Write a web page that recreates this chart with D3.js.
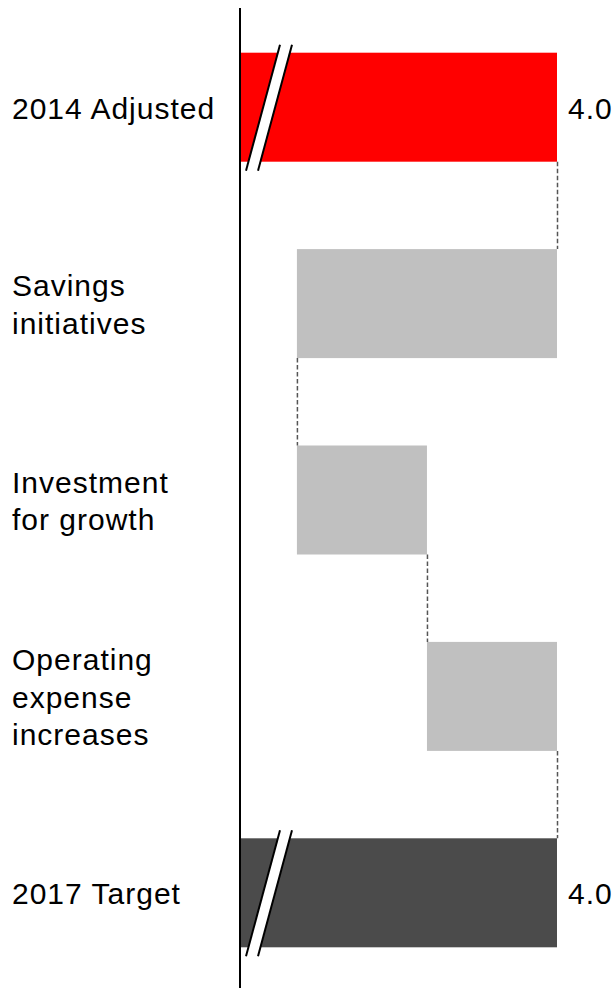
<!DOCTYPE html>
<html>
<head>
<meta charset="utf-8">
<script src="https://cdn.jsdelivr.net/npm/d3@7"></script>
<style>
  html, body { margin: 0; padding: 0; background: #ffffff; }
  svg { display: block; }
  text { font-family: "Liberation Sans", Arial, Helvetica, sans-serif; fill: #000; letter-spacing: 1px; }
</style>
</head>
<body>
<svg id="chart" width="615" height="988"></svg>
<script>
// Operating expense bridge, 2014 adjusted to 2017 target
const categories = ["2014 Adjusted", "Savings initiatives", "Investment for growth", "Operating expense increases", "2017 Target"];
const labelLines = [["2014 Adjusted"], ["Savings", "initiatives"], ["Investment", "for growth"], ["Operating", "expense", "increases"], ["2017 Target"]];
const values = [4.0, -0.2, 0.1, 0.1, 4.0];
const kinds = ["total", "delta", "delta", "delta", "total"];
const axisStart = 3.757;   // value axis is broken; bars start here

const barColors = ["#ff0000", "#c0c0c0", "#c0c0c0", "#c0c0c0", "#4b4b4b"];

const width = 615, height = 988;
const svg = d3.select("#chart");

const x = d3.scaleLinear().domain([axisStart, 4.0]).range([241, 557]);
const y = d3.scaleBand().domain(categories).range([9, 991])
  .paddingInner(0.445).paddingOuter(0.2225);

// running totals for the waterfall
let running = 0;
const bars = categories.map((c, i) => {
  let start, end;
  if (kinds[i] === "total") { start = axisStart; end = values[i]; }
  else { start = running; end = running + values[i]; }
  running = end;
  return { cat: c, i, start, end, kind: kinds[i], value: values[i], lines: labelLines[i] };
});

// bars
svg.append("g").selectAll("rect").data(bars).join("rect")
  .attr("x", d => x(Math.min(d.start, d.end)))
  .attr("y", d => y(d.cat))
  .attr("width", d => Math.abs(x(d.end) - x(d.start)))
  .attr("height", y.bandwidth())
  .attr("fill", d => barColors[d.i]);

// dashed connectors between consecutive bars
const links = bars.slice(0, -1).map((d, i) => ({ x: d.end, y0: y(d.cat) + y.bandwidth(), y1: y(bars[i + 1].cat) }));
svg.append("g").selectAll("line").data(links).join("line")
  .attr("x1", d => x(d.x) + 0.5).attr("x2", d => x(d.x) + 0.5)
  .attr("y1", d => d.y0).attr("y2", d => d.y1)
  .attr("stroke", "#555555").attr("stroke-width", 1.5)
  .attr("stroke-dasharray", "4.5,2.5");

// axis-break marks on the total bars
const brk = svg.append("g").selectAll("g").data(bars.filter(d => d.kind === "total")).join("g");
brk.each(function (d) {
  const g = d3.select(this);
  const x0 = x(axisStart);
  const top = y(d.cat) - 8, bot = y(d.cat) + y.bandwidth() + 9;
  const gap = 12;
  const bl = x0 + 5, tl = x0 + 39;
  g.append("polygon")
    .attr("points", [[bl, bot], [tl, top], [tl + gap, top], [bl + gap, bot]].map(p => p.join(",")).join(" "))
    .attr("fill", "#ffffff");
  [0, gap].forEach(o => {
    g.append("line")
      .attr("x1", bl + o).attr("y1", bot).attr("x2", tl + o).attr("y2", top)
      .attr("stroke", "#000").attr("stroke-width", 2);
  });
});

// category axis line
svg.append("line")
  .attr("x1", 240).attr("x2", 240).attr("y1", 8).attr("y2", height)
  .attr("stroke", "#000").attr("stroke-width", 2);

// category labels
const fontSize = 30, lineH = 37.5;
const lab = svg.append("g").selectAll("text").data(bars).join("text")
  .attr("font-size", fontSize)
  .attr("x", 12);
lab.each(function (d) {
  const cy = y(d.cat) + y.bandwidth() / 2;
  const n = d.lines.length;
  const first = cy - (n - 1) * lineH / 2 + 11.5;
  d3.select(this).selectAll("tspan").data(d.lines).join("tspan")
    .attr("x", 12)
    .attr("y", (t, k) => first + k * lineH)
    .text(t => t);
});

// value labels on totals
svg.append("g").selectAll("text").data(bars.filter(d => d.kind === "total")).join("text")
  .attr("font-size", fontSize)
  .attr("x", d => x(d.end) + 11)
  .attr("y", d => y(d.cat) + y.bandwidth() / 2 + 11.5)
  .text(d => d3.format(".1f")(d.value));
</script>
</body>
</html>
